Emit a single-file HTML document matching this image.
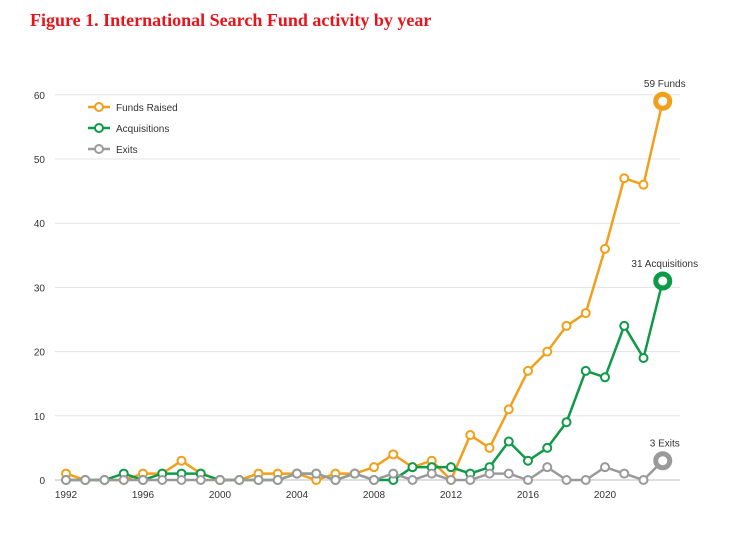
<!DOCTYPE html>
<html><head><meta charset="utf-8"><style>
body{margin:0;background:#fff;width:751px;height:553px;overflow:hidden}
svg text{font-family:"Liberation Sans",sans-serif}
</style></head><body>
<svg width="751" height="553">
<text x="30" y="26" fill="#e8141b" font-family="Liberation Serif" style="font-family:'Liberation Serif',serif" font-weight="bold" font-size="18">Figure 1. International Search Fund activity by year</text>
<g id="grid"></g><g id="series"></g><g id="legend"></g>
</svg>
<script>
const years=[];for(let y=1992;y<=2023;y++)years.push(y);
const funds=[1,0,0,0,1,1,3,1,0,0,1,1,1,0,1,1,2,4,2,3,0,7,5,11,17,20,24,26,36,47,46,59];
const acqs=[0,0,0,1,0,1,1,1,0,0,0,0,1,1,0,1,0,0,2,2,2,1,2,6,3,5,9,17,16,24,19,31];
const exits=[0,0,0,0,0,0,0,0,0,0,0,0,1,1,0,1,0,1,0,1,0,0,1,1,0,2,0,0,2,1,0,3];
const yTicks=[0,10,20,30,40,50,60];
const xTicks=[1992,1996,2000,2004,2008,2012,2016,2020];
const ns="http://www.w3.org/2000/svg";
const X=y=>66+(y-1992)*19.25, Y=v=>480-v*6.42;
function mk(t,a,p){const e=document.createElementNS(ns,t);for(const k in a)e.setAttribute(k,a[k]);p.appendChild(e);return e;}
const g=document.getElementById('grid');
yTicks.forEach(v=>{const l=mk('line',{x1:55,x2:680,y1:Y(v),y2:Y(v),stroke:v?'#e3e3e3':'#bdbdbd','stroke-width':1},g);


const t=mk('text',{x:45,y:Y(v)+4,'text-anchor':'end','font-size':10,fill:'#333'},g);t.textContent=v;

});
xTicks.forEach(v=>{const t=mk('text',{x:X(v),y:498,'text-anchor':'middle','font-size':10,fill:'#333'},g);t.textContent=v;

});
const s=document.getElementById('series');
const defs=[[funds,'#f0a01a','funds',' Funds'],[acqs,'#0f9a48','acquisitions',' Acquisitions'],[exits,'#9a9a9a','exits',' Exits']];
defs.forEach(([d,c,n,lab])=>{
const pl=mk('polyline',{points:d.map((v,i)=>X(years[i])+','+Y(v)).join(' '),fill:'none',stroke:c,'stroke-width':2.5},s);


d.forEach((v,i)=>{const last=i==d.length-1;
const ci=mk('circle',{cx:X(years[i]),cy:Y(v),r:last?7:4,fill:'#fff',stroke:c,'stroke-width':last?5:2},s);

});
const lv=d[d.length-1];
const t=mk('text',{x:X(2023)+2,y:Y(lv)-14,'text-anchor':'middle','font-size':10,fill:'#333'},s);t.textContent=lv+lab;

});
const lg=document.getElementById('legend');
[['Funds Raised','#f0a01a',107],['Acquisitions','#0f9a48',128],['Exits','#9a9a9a',149]].forEach(([t,c,y])=>{
const l=mk('line',{x1:88,x2:110,y1:y,y2:y,stroke:c,'stroke-width':2.5},lg);


const ci=mk('circle',{cx:99,cy:y,r:4,fill:'#fff',stroke:c,'stroke-width':2},lg);


const tx=mk('text',{x:116,y:y+4,'font-size':10,fill:'#333'},lg);tx.textContent=t;

});
</script>
</body></html>
